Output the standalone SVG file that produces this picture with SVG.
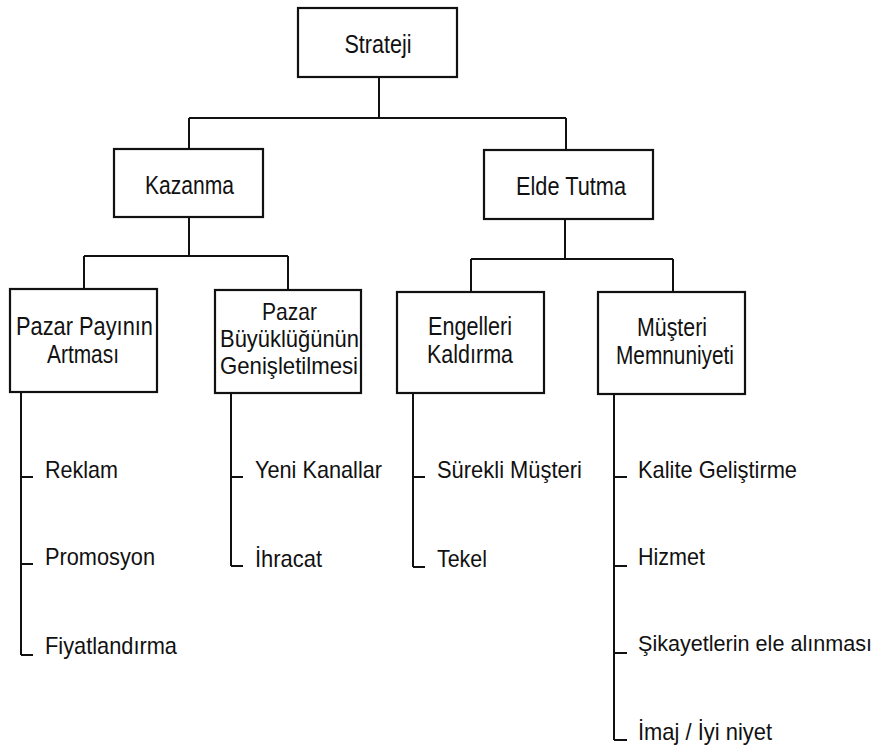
<svg xmlns="http://www.w3.org/2000/svg" width="880" height="749" viewBox="0 0 880 749">
<style>
.box{fill:#fff;stroke:#111;stroke-width:2.2}
.ln{fill:none;stroke:#111;stroke-width:2}
.bl{font-family:"Liberation Sans",Arial,sans-serif;font-size:26px;fill:#111;text-anchor:middle}
.sm{font-size:24px}
.it{font-family:"Liberation Sans",Arial,sans-serif;font-size:24px;fill:#111}
</style>
<rect width="880" height="749" fill="#fff"/>
<g id="connectors" class="ln">
<path d="M379 77V118M189 118H566M189 118V149M566 118V150"/>
<path d="M189 217V256M84 256H288M84 256V289M288 256V290"/>
<path d="M565 219V259M471 259H673M471 259V292M673 259V292"/>
<path d="M21 392V655M21 477H33M21 564H33M21 655H33"/>
<path d="M231 393V566M231 477H243M231 566H243"/>
<path d="M413 393V567M413 477H425M413 567H425"/>
<path d="M614 394V740M614 477H627M614 566H627M614 653H627M614 740H627"/>
</g>
<g id="strateji"><rect class="box" x="298" y="8" width="159" height="69"/><text class="bl" x="378" y="53" textLength="67" lengthAdjust="spacingAndGlyphs">Strateji</text></g>
<g id="kazanma"><rect class="box" x="114" y="149" width="149" height="68"/><text class="bl" x="189.5" y="194" textLength="89" lengthAdjust="spacingAndGlyphs">Kazanma</text></g>
<g id="elde-tutma"><rect class="box" x="484" y="150" width="169" height="69"/><text class="bl" x="571" y="195" textLength="110" lengthAdjust="spacingAndGlyphs">Elde Tutma</text></g>
<g id="pazar-payi"><rect class="box" x="10" y="289" width="147" height="103"/><text class="bl" x="84.5" y="335" textLength="137" lengthAdjust="spacingAndGlyphs">Pazar Payının</text><text class="bl" x="83" y="363" textLength="72" lengthAdjust="spacingAndGlyphs">Artması</text></g>
<g id="pazar-buyuklugu"><rect class="box" x="215" y="290" width="146" height="103"/><text class="bl sm" x="289.5" y="320" textLength="55" lengthAdjust="spacingAndGlyphs">Pazar</text><text class="bl sm" x="289.5" y="347" textLength="139" lengthAdjust="spacingAndGlyphs">Büyüklüğünün</text><text class="bl sm" x="289" y="374" textLength="138" lengthAdjust="spacingAndGlyphs">Genişletilmesi</text></g>
<g id="engelleri"><rect class="box" x="397" y="292" width="147" height="101"/><text class="bl" x="470" y="335" textLength="84" lengthAdjust="spacingAndGlyphs">Engelleri</text><text class="bl" x="470" y="363" textLength="86" lengthAdjust="spacingAndGlyphs">Kaldırma</text></g>
<g id="musteri"><rect class="box" x="598" y="292" width="147" height="102"/><text class="bl" x="672" y="336" textLength="70" lengthAdjust="spacingAndGlyphs">Müşteri</text><text class="bl" x="675" y="364" textLength="118" lengthAdjust="spacingAndGlyphs">Memnuniyeti</text></g>
<g id="items">
<text class="it" x="45" y="478" textLength="73" lengthAdjust="spacingAndGlyphs">Reklam</text>
<text class="it" x="45" y="565" textLength="110" lengthAdjust="spacingAndGlyphs">Promosyon</text>
<text class="it" x="45" y="654" textLength="132" lengthAdjust="spacingAndGlyphs">Fiyatlandırma</text>
<text class="it" x="255" y="478" textLength="127" lengthAdjust="spacingAndGlyphs">Yeni Kanallar</text>
<text class="it" x="255" y="567" textLength="67" lengthAdjust="spacingAndGlyphs">İhracat</text>
<text class="it" x="437" y="478" textLength="145" lengthAdjust="spacingAndGlyphs">Sürekli Müşteri</text>
<text class="it" x="437" y="567" textLength="50" lengthAdjust="spacingAndGlyphs">Tekel</text>
<text class="it" x="638" y="478" textLength="159" lengthAdjust="spacingAndGlyphs">Kalite Geliştirme</text>
<text class="it" x="638" y="565" textLength="67" lengthAdjust="spacingAndGlyphs">Hizmet</text>
<text class="it" x="638" y="651" style="font-size:22px" textLength="234" lengthAdjust="spacingAndGlyphs">Şikayetlerin ele alınması</text>
<text class="it" x="638" y="740" textLength="134" lengthAdjust="spacingAndGlyphs">İmaj / İyi niyet</text>
</g>
</svg>
